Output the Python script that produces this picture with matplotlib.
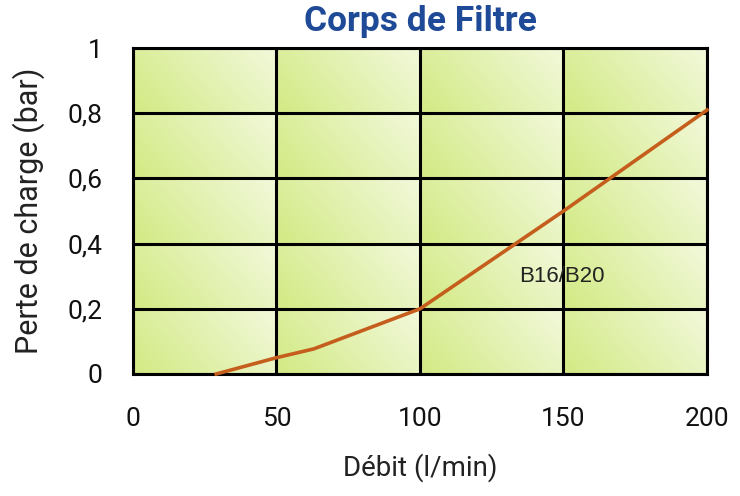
import matplotlib
matplotlib.use("Agg")
import matplotlib.pyplot as plt
import numpy as np

# data
debit = [29, 50, 63, 100, 150, 200]
perte = [0.0, 0.05, 0.077, 0.2, 0.5, 0.81]
x_ticks = [0, 50, 100, 150, 200]
y_ticks = [0, 0.2, 0.4, 0.6, 0.8, 1.0]
y_labels = ["0", "0,2", "0,4", "0,6", "0,8", "1"]
serie = "B16/B20"

fig = plt.figure(figsize=(7.4, 4.96), dpi=100)
ax = fig.add_axes([0.1797, 0.246, 0.7757, 0.657])

# gradient fill for every grid cell (dark green bottom-left -> pale top-right)
c_dark = np.array([0.83, 0.92, 0.53])
c_light = np.array([0.95, 0.975, 0.86])
n = 64
u, v = np.meshgrid(np.linspace(0, 1, n), np.linspace(0, 1, n))
t = np.clip(0.75 * u + 0.3 * v - 0.05, 0, 1)[..., None]
grad = c_dark + (c_light - c_dark) * t
for i in range(len(x_ticks) - 1):
    for j in range(len(y_ticks) - 1):
        ax.imshow(grad, origin="lower", aspect="auto", interpolation="bilinear",
                  extent=[x_ticks[i], x_ticks[i + 1], y_ticks[j], y_ticks[j + 1]],
                  zorder=0)

ax.set_xlim(0, 200)
ax.set_ylim(0, 1)
ax.set_xticks(x_ticks)
ax.set_yticks(y_ticks)
ax.set_yticklabels(y_labels)
ax.grid(True, color="black", linewidth=2.2, zorder=1)
ax.set_axisbelow(False)
for s in ax.spines.values():
    s.set_linewidth(2.2)
ax.tick_params(length=0, labelsize=19, colors="#111111")
ax.tick_params(axis="x", pad=24)
ax.tick_params(axis="y", pad=22)
for lab in ax.get_xticklabels() + ax.get_yticklabels():
    lab.set_family("Roboto")

ax.plot(debit, perte, color="#c55e1c", linewidth=2.6, zorder=3, clip_on=False)
ax.text(149.5, 0.3, serie, fontsize=16, color="#222222", family="Liberation Sans",
        ha="center", va="center", zorder=4)

ax.set_title("Corps de Filtre", fontsize=25.5, fontweight="bold", color="#1f4a98",
             family="Roboto", pad=12)
ax.set_xlabel("Débit (l/min)", fontsize=20, family="Roboto", color="#222222", labelpad=16)
ax.set_ylabel("Perte de charge (bar)", fontsize=22, family="Roboto", color="#222222",
              labelpad=16)

fig.savefig("out.png", dpi=100)
